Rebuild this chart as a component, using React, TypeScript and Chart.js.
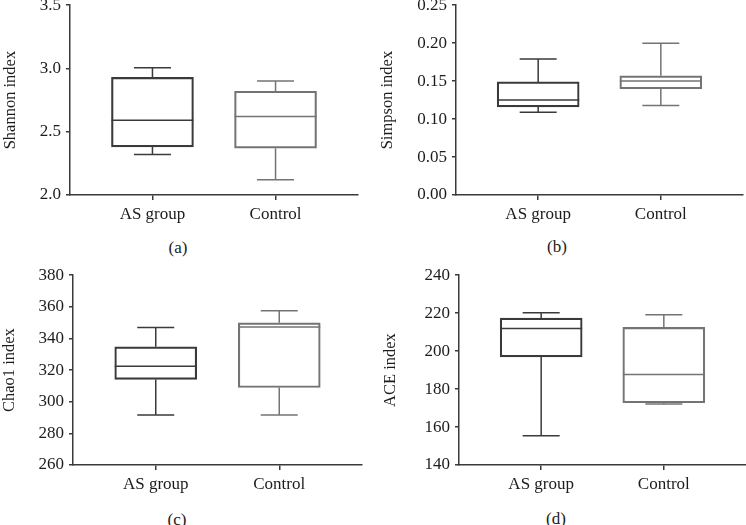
import React, { useEffect, useRef } from "react";
import { Chart, registerables } from "chart.js";

Chart.register(...registerables);

const categories = ["AS group", "Control"];

const shannonMin = [2.32, 2.12];
const shannonQ1 = [2.38, 2.37];
const shannonMedian = [2.59, 2.62];
const shannonQ3 = [2.93, 2.82];
const shannonMax = [3.005, 2.9];
const shannonTicks = [2.0, 2.5, 3.0, 3.5];
const shannonTickLabels = ["2.0", "2.5", "3.0", "3.5"];

const simpsonMin = [0.109, 0.118];
const simpsonQ1 = [0.116, 0.14];
const simpsonMedian = [0.125, 0.15];
const simpsonQ3 = [0.149, 0.157];
const simpsonMax = [0.179, 0.2];
const simpsonTicks = [0, 0.05, 0.1, 0.15, 0.2, 0.25];
const simpsonTickLabels = ["0.00", "0.05", "0.10", "0.15", "0.20", "0.25"];

const chao1Min = [291.6, 291.6];
const chao1Q1 = [314.1, 309];
const chao1Median = [322.5, 347.2];
const chao1Q3 = [334.7, 349.9];
const chao1Max = [346.9, 357.5];
const chao1Ticks = [260, 280, 300, 320, 340, 360, 380];
const chao1TickLabels = ["260", "280", "300", "320", "340", "360", "380"];

const aceMin = [155.4, 172.1];
const aceQ1 = [197, 172.8];
const aceMedian = [211.9, 187.7];
const aceQ3 = [217.4, 212.5];
const aceMax = [220.2, 219.1];
const aceTicks = [140, 160, 180, 200, 220, 240];
const aceTickLabels = ["140", "160", "180", "200", "220", "240"];

const FONT = '"Liberation Serif", "Times New Roman", serif';
const TEXT = "#1e1b1c";
const AXIS = "#3a3a3a";
const BOX_COLORS = ["#3a3a3a", "#747474"];
const BOX_W = 82;
const CAP_W = 37;

type PanelProps = {
  left: number;
  top: number;
  yWidth: number;
  padRight: number;
  titlePad: number;
  title: string;
  min: number[];
  q1: number[];
  median: number[];
  q3: number[];
  max: number[];
  ticks: number[];
  tickLabels: string[];
};

const W = 373;
const H = 240;

function BoxPanel(p: PanelProps) {
  const ref = useRef<HTMLCanvasElement>(null);
  useEffect(() => {
    if (!ref.current) return;
    const whiskers = {
      id: "whiskers",
      afterDatasetsDraw(chart: any) {
        const ctx = chart.ctx;
        const xs = chart.scales.x;
        const ys = chart.scales.y;
        ctx.save();
        ctx.lineWidth = 1.5;
        categories.forEach((_, i) => {
          const cx = xs.getPixelForValue(i);
          ctx.strokeStyle = BOX_COLORS[i];
          ctx.beginPath();
          const ym = ys.getPixelForValue(p.median[i]);
          ctx.moveTo(cx - BOX_W / 2, ym);
          ctx.lineTo(cx + BOX_W / 2, ym);
          const yq3 = ys.getPixelForValue(p.q3[i]);
          const yMax = ys.getPixelForValue(p.max[i]);
          ctx.moveTo(cx, yq3);
          ctx.lineTo(cx, yMax);
          ctx.moveTo(cx - CAP_W / 2, yMax);
          ctx.lineTo(cx + CAP_W / 2, yMax);
          const yq1 = ys.getPixelForValue(p.q1[i]);
          const yMin = ys.getPixelForValue(p.min[i]);
          ctx.moveTo(cx, yq1);
          ctx.lineTo(cx, yMin);
          ctx.moveTo(cx - CAP_W / 2, yMin);
          ctx.lineTo(cx + CAP_W / 2, yMin);
          ctx.stroke();
        });
        ctx.restore();
      },
    };
    const chart = new Chart(ref.current, {
      type: "bar",
      data: {
        datasets: [
          {
            data: categories.map((_, i) => ({ x: i, y: [p.q1[i], p.q3[i]] })) as any,
            backgroundColor: "rgba(255,255,255,0)",
            borderColor: BOX_COLORS,
            borderWidth: 1.5,
            borderSkipped: false,
            barThickness: BOX_W,
          },
        ],
      },
      options: {
        responsive: false,
        animation: false,
        devicePixelRatio: 1,
        layout: { padding: { top: 15, right: p.padRight, left: 0, bottom: 0 } },
        plugins: { legend: { display: false }, tooltip: { enabled: false } },
        scales: {
          x: {
            type: "linear",
            offset: false,
            min: -0.67,
            max: 1.67,
            afterBuildTicks: (s: any) => {
              s.ticks = categories.map((_, i) => ({ value: i }));
            },
            afterFit: (s: any) => {
              s.height = H - 205;
            },
            ticks: {
              callback: (_v: any, i: number) => categories[i],
              font: { family: FONT, size: 17 },
              color: TEXT,
              padding: 4,
              maxRotation: 0,
              autoSkip: false,
            },
            grid: {
              display: true,
              offset: false,
              drawOnChartArea: false,
              drawTicks: true,
              tickLength: 5,
              color: AXIS,
              lineWidth: 1.5,
            },
            border: { display: true, color: AXIS, width: 1.5 },
          },
          y: {
            type: "linear",
            min: p.ticks[0],
            max: p.ticks[p.ticks.length - 1],
            afterBuildTicks: (s: any) => {
              s.ticks = p.ticks.map((v) => ({ value: v }));
            },
            afterFit: (s: any) => {
              s.width = p.yWidth;
            },
            ticks: {
              callback: (_v: any, i: number) => p.tickLabels[i],
              font: { family: FONT, size: 17 },
              color: TEXT,
              padding: 5,
            },
            grid: {
              display: true,
              drawOnChartArea: false,
              drawTicks: true,
              tickLength: 4,
              color: AXIS,
              lineWidth: 1.5,
            },
            border: { display: true, color: AXIS, width: 1.5 },
            title: {
              display: true,
              text: p.title,
              font: { family: FONT, size: 16.5 },
              color: TEXT,
              padding: { top: p.titlePad, bottom: 0 },
            },
          },
        },
      },
      plugins: [whiskers],
    });
    return () => chart.destroy();
  }, []);
  return (
    <canvas
      ref={ref}
      width={W}
      height={H}
      style={{ position: "absolute", left: p.left, top: p.top, width: W, height: H }}
    />
  );
}

function Caption({ text, cx, cy }: { text: string; cx: number; cy: number }) {
  return (
    <div
      style={{
        position: "absolute",
        left: cx - 30,
        top: cy - 10,
        width: 60,
        textAlign: "center",
        font: `17px ${FONT}`,
        lineHeight: "20px",
        color: TEXT,
      }}
    >
      {text}
    </div>
  );
}

export default function App() {
  return (
    <div
      style={{
        position: "fixed",
        left: 0,
        top: 0,
        width: 746,
        height: 525,
        overflow: "hidden",
        background: "#fff",
      }}
    >
      <BoxPanel
        left={0}
        top={-10}
        yWidth={70}
        padRight={15}
        titlePad={1}
        title="Shannon index"
        min={shannonMin}
        q1={shannonQ1}
        median={shannonMedian}
        q3={shannonQ3}
        max={shannonMax}
        ticks={shannonTicks}
        tickLabels={shannonTickLabels}
      />
      <BoxPanel
        left={373}
        top={-10}
        yWidth={83}
        padRight={3}
        titlePad={5}
        title="Simpson index"
        min={simpsonMin}
        q1={simpsonQ1}
        median={simpsonMedian}
        q3={simpsonQ3}
        max={simpsonMax}
        ticks={simpsonTicks}
        tickLabels={simpsonTickLabels}
      />
      <BoxPanel
        left={0}
        top={260}
        yWidth={73}
        padRight={11}
        titlePad={0}
        title="Chao1 index"
        min={chao1Min}
        q1={chao1Q1}
        median={chao1Median}
        q3={chao1Q3}
        max={chao1Max}
        ticks={chao1Ticks}
        tickLabels={chao1TickLabels}
      />
      <BoxPanel
        left={373}
        top={260}
        yWidth={86}
        padRight={0}
        titlePad={8}
        title="ACE index"
        min={aceMin}
        q1={aceQ1}
        median={aceMedian}
        q3={aceQ3}
        max={aceMax}
        ticks={aceTicks}
        tickLabels={aceTickLabels}
      />
      <Caption text="(a)" cx={178} cy={248} />
      <Caption text="(b)" cx={557} cy={247} />
      <Caption text="(c)" cx={177} cy={520} />
      <Caption text="(d)" cx={556} cy={519} />
    </div>
  );
}
